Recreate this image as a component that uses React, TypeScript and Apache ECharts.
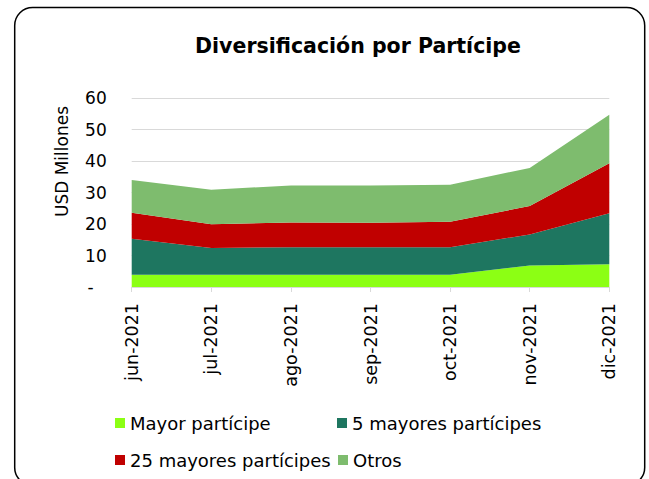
import React, { useEffect, useRef } from "react";
import * as echarts from "echarts";

const categories = ["jun-2021", "jul-2021", "ago-2021", "sep-2021", "oct-2021", "nov-2021", "dic-2021"];
const mayorParticipe = [3.9, 3.9, 3.9, 3.9, 3.9, 6.8, 7.2];
const cincoMayores = [11.4, 8.5, 8.7, 8.7, 8.7, 9.9, 16.2];
const veinticincoMayores = [8.3, 7.5, 7.9, 7.8, 8.1, 9.0, 15.9];
const otros = [10.4, 11.0, 11.7, 11.8, 11.8, 12.1, 15.4];

const seriesNames = ["Mayor partícipe", "5 mayores partícipes", "25 mayores partícipes", "Otros"];
const seriesColors = ["#8CFF14", "#1E7660", "#C00000", "#7EBC6E"];
const seriesData = [mayorParticipe, cincoMayores, veinticincoMayores, otros];

const FONT = "'DejaVu Sans', Verdana, sans-serif";

export default function App() {
  const ref = useRef<HTMLDivElement>(null);
  useEffect(() => {
    if (!ref.current) return;
    const chart = echarts.init(ref.current, undefined, { renderer: "svg" });
    const legendBase = {
      icon: "rect",
      itemWidth: 10,
      itemHeight: 10,
      padding: 0,
      textStyle: { fontFamily: FONT, fontSize: 18, color: "#000", lineHeight: 20 },
      selectedMode: false,
    };
    const legendPos = [
      { left: 115, top: 413 },
      { left: 337, top: 413 },
      { left: 115, top: 450 },
      { left: 338, top: 450 },
    ];
    chart.setOption({
      animation: false,
      backgroundColor: "#fff",
      graphic: [
        {
          type: "rect",
          shape: { x: 14.7, y: 7.5, width: 630, height: 478, r: 18 },
          style: { fill: "none", stroke: "#000", lineWidth: 1.5 },
          silent: true,
          z: -1,
        },
        {
          type: "text",
          style: {
            text: "Diversificación por Partícipe",
            x: 358,
            y: 46,
            textAlign: "center",
            textVerticalAlign: "middle",
            font: `bold 20.5px ${FONT}`,
            fill: "#000",
          },
        },
        {
          type: "text",
          rotation: Math.PI / 2,
          x: 61.7,
          y: 161.5,
          style: {
            text: "USD Millones",
            x: 0,
            y: 0,
            textAlign: "center",
            textVerticalAlign: "middle",
            font: `17px ${FONT}`,
            fill: "#000",
          },
        },
      ],
      legend: seriesNames.map((name, i) => ({
        ...legendBase,
        ...legendPos[i],
        data: [name],
      })),
      grid: { left: 131.7, right: 39.7, top: 98, bottom: 192, containLabel: false },
      xAxis: {
        type: "category",
        data: categories,
        boundaryGap: false,
        axisLine: { lineStyle: { color: "#D9D9D9", width: 1 } },
        axisTick: { show: true, length: 5, lineStyle: { color: "#D9D9D9" } },
        axisLabel: { rotate: 90, margin: 16, fontFamily: FONT, fontSize: 17.5, color: "#000" },
      },
      yAxis: {
        type: "value",
        min: 0,
        max: 60,
        interval: 10,
        axisLine: { show: false },
        axisTick: { show: false },
        splitLine: { lineStyle: { color: "#D9D9D9", width: 1 } },
        axisLabel: {
          margin: 25,
          fontFamily: FONT,
          fontSize: 17,
          color: "#000",
          formatter: (v: number) => (v === 0 ? "{z|-}" : String(v)),
          rich: { z: { fontFamily: FONT, fontSize: 17, color: "#000", padding: [0, 13, 0, 0] } },
        },
      },
      series: seriesNames.map((name, i) => ({
        name,
        type: "line",
        stack: "total",
        data: seriesData[i],
        symbol: "none",
        lineStyle: { width: 0 },
        areaStyle: { color: seriesColors[i], opacity: 1 },
        itemStyle: { color: seriesColors[i] },
        emphasis: { disabled: true },
      })),
    });
    return () => chart.dispose();
  }, []);
  return <div ref={ref} style={{ position: "absolute", left: 0, top: 0, width: 649, height: 479 }} />;
}
